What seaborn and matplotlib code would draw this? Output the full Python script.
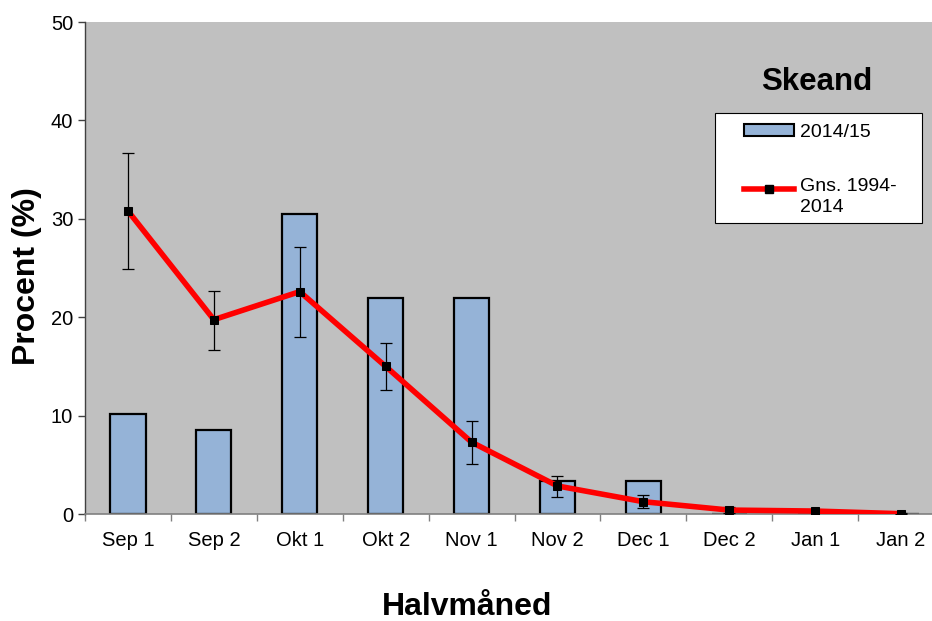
import matplotlib
matplotlib.use('Agg')
import matplotlib.pyplot as plt
from matplotlib.patches import Rectangle, Patch
from matplotlib.lines import Line2D
from matplotlib.legend_handler import HandlerLine2D
import seaborn as sns
import pandas as pd
import numpy as np

categories = ["Sep 1", "Sep 2", "Okt 1", "Okt 2", "Nov 1", "Nov 2",
              "Dec 1", "Dec 2", "Jan 1", "Jan 2"]
season_2014_15 = [10.2, 8.5, 30.5, 22.0, 22.0, 3.4, 3.4, 0.0, 0.0, 0.0]
mean_1994_2014 = [30.8, 19.75, 22.6, 15.0, 7.3, 2.85, 1.25, 0.4, 0.3, 0.03]
err_low = [24.9, 16.7, 18.0, 12.6, 5.1, 1.76, 0.61, 0.1, 0.2, 0.0]
err_high = [36.65, 22.7, 27.1, 17.4, 9.45, 3.9, 1.96, 0.74, 0.4, 0.06]
yticks = [0, 10, 20, 30, 40, 50]

plt.rcParams['font.family'] = ['Liberation Sans', 'DejaVu Sans']

W, H = 932, 621
fig = plt.figure(figsize=(W / 100, H / 100), dpi=100)
fig.patch.set_facecolor('white')
ax = fig.add_axes([85 / W, (H - 514) / H, (944 - 85) / W, 492 / H])
ax.set_facecolor('#C0C0C0')

df = pd.DataFrame({'cat': categories, 'val': season_2014_15})
sns.barplot(data=df, x='cat', y='val', ax=ax, color='#95B3D7', saturation=1,
            width=0.41, edgecolor='black', linewidth=1.6, zorder=2)

x = np.arange(len(categories))
mean = np.array(mean_1994_2014)
lo = mean - np.array(err_low)
hi = np.array(err_high) - mean
ax.errorbar(x, mean, yerr=[lo, hi], fmt='none', ecolor='black',
            elinewidth=0.9, capsize=4.5, capthick=0.9, zorder=3)
sns.lineplot(x=x, y=mean, ax=ax, color='red', linewidth=4, marker='s',
             markerfacecolor='black', markeredgecolor='black', markersize=5.5,
             zorder=4, legend=False)

ax.set_xlim(-0.5, 9.5)
ax.set_ylim(0, 50)
ax.set_yticks(yticks)
ax.set_yticklabels([str(v) for v in yticks])
ax.set_xticks(x)
ax.set_xticklabels(categories)
ax.set_xticks(np.arange(-0.5, 10, 1), minor=True)
ax.tick_params(axis='x', which='major', length=0, pad=12.5, labelsize=14.5)
ax.tick_params(axis='x', which='minor', length=5, width=1, color='#808080',
               direction='out')
ax.tick_params(axis='y', which='major', length=5, width=1, color='#404040',
               direction='out', pad=3.5, labelsize=14.5)
ax.set_xlabel('')
ax.set_ylabel('')
ax.grid(False)
for s in ['top', 'right']:
    ax.spines[s].set_visible(False)
ax.spines['left'].set_color('#404040')
ax.spines['bottom'].set_color('#808080')
ax.spines['left'].set_linewidth(1)
ax.spines['bottom'].set_linewidth(1.2)

fig.text(27 / W, 1 - 276 / H, 'Procent (%)', rotation=90, ha='center',
         va='center', fontsize=23, fontweight='bold')
fig.text(467 / W, 1 - 615 / H, 'Halvmåned', ha='center', va='baseline',
         fontsize=23, fontweight='bold')
fig.text(817 / W, 1 - 82 / H, 'Skeand', ha='center', va='center',
         fontsize=22.5, fontweight='bold')


class UpHandler(HandlerLine2D):
    def __init__(self, shift, **kw):
        super().__init__(**kw)
        self.shift = shift

    def create_artists(self, legend, orig_handle, xdescent, ydescent, width,
                       height, fontsize, trans):
        return super().create_artists(legend, orig_handle, xdescent,
                                      ydescent - self.shift, width, height,
                                      fontsize, trans)


# legend frame
ax.add_patch(Rectangle((715 / W, 1 - 223 / H), 207 / W, 110 / H,
                       transform=fig.transFigure, facecolor='white',
                       edgecolor='black', linewidth=0.8, zorder=5,
                       clip_on=False))
line_handle = Line2D([0], [0], color='red', linewidth=4, marker='s',
                     markerfacecolor='black', markeredgecolor='black',
                     markersize=5.5)
handles = [Patch(facecolor='#95B3D7', edgecolor='black', linewidth=1.5),
           line_handle]
leg = ax.legend(handles, ['2014/15', 'Gns. 1994-\n2014'], loc='upper left',
                bbox_to_anchor=(734 / W, 1 - 114 / H),
                bbox_transform=fig.transFigure, frameon=False, fontsize=14,
                handlelength=2.6, handletextpad=0.3, borderpad=0,
                labelspacing=1.9, handleheight=0.6,
                handler_map={line_handle: UpHandler(shift=11.5)})
for t in leg.get_texts():
    t.set_linespacing(1.35)
leg.set_zorder(6)

fig.savefig('out.png', dpi=100)
